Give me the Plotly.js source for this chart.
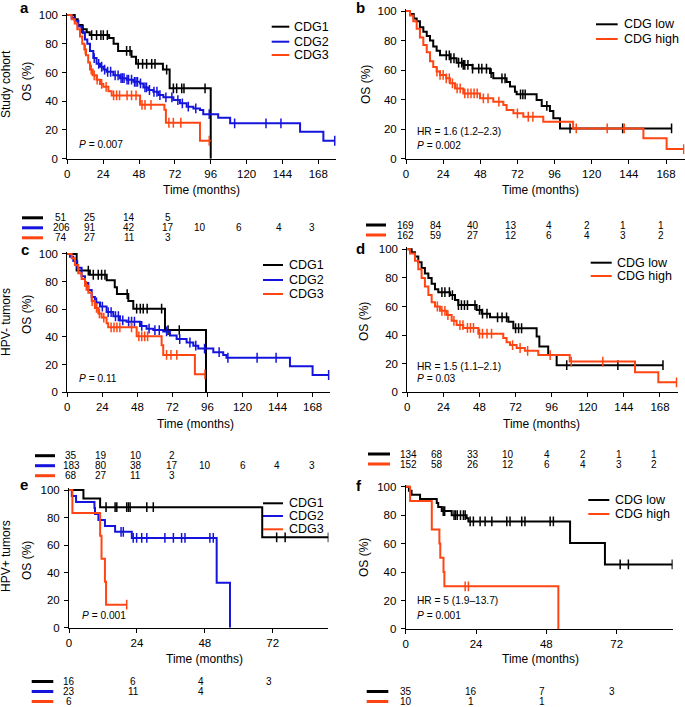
<!DOCTYPE html>
<html><head><meta charset="utf-8">
<script src="https://cdn.plot.ly/plotly-3.0.1.min.js"></script>
<style>html,body{margin:0;padding:0;background:#fff}#chart{width:685px;height:707px}</style>
</head><body><div id="chart"></div>
<script>
const W = 685, H = 707;
const FONT = 'Liberation Sans, Arial, Helvetica, sans-serif';
const BLACK = '#000000', BLUE = '#1414dc', RED = '#ff4512';

// ---------- Panel a: study cohort, CDG1/2/3 ----------
const aCDG1Time = [5, 7, 10, 13, 15, 28, 31, 34, 43, 46, 64, 68.5, 96];
const aCDG1Surv = [97, 93, 90, 88, 86, 84, 80, 75, 71, 66, 62, 49, 0];
const aCDG1End = 96;
const aCDG1Cens = [10.5, 16.3, 19.6, 22.5, 24.1, 26.8, 39.7, 42, 47.5, 50.4, 53.1, 56.5, 58.7, 66.5, 71, 73.2, 76.6, 78.1, 92.2];

const aCDG2Time = [2.9, 5, 7.4, 9.6, 11.8, 13.4, 15.2, 17.4, 19.6, 21.9, 24.1, 26.3, 30.8, 35.3, 39.7, 44.2, 48.7, 50.9, 54.2, 57.6, 61, 64.3, 71, 75.4, 79.9, 84.4, 88.8, 91, 101, 109, 155.8, 171.4];
const aCDG2Surv = [98, 96, 92, 88, 83, 80, 75, 70, 66, 64, 62, 60.5, 58, 56, 55, 53.5, 52.4, 49.6, 47.8, 46.6, 44.3, 42.7, 40.8, 38.5, 36.2, 35, 33.9, 31, 28.5, 24.6, 18.8, 12.5];
const aCDG2End = 179;
const aCDG2Cens = [18, 21, 23, 25, 27, 29, 32, 34, 36, 37, 38, 40, 41, 43, 45, 46, 47, 49, 52, 53, 55, 58, 60, 62, 66, 70, 74, 77, 81, 86, 95, 112, 133, 143, 179];

const aCDG3Time = [2.9, 5, 6.7, 8.5, 10, 11.4, 12.5, 14, 15.2, 17, 19.6, 21.9, 24.1, 27.5, 29.7, 48.7, 65, 66, 88.8];
const aCDG3Surv = [97, 94, 90, 85, 80, 76, 72, 67, 62, 58, 55, 52, 50, 47, 44, 37.5, 34, 25, 12.5];
const aCDG3End = 96;
const aCDG3Cens = [12, 16, 18, 20, 23, 26, 31, 33, 35, 40, 43, 46, 50, 52, 56, 68, 71, 76, 95];

// ---------- Panel b: study cohort, CDG low/high ----------
const bLowTime = [2.6, 5, 6.9, 9, 11.2, 13.4, 15.5, 17.6, 19.8, 22, 28.4, 32.7, 37, 43, 54.3, 56.4, 65, 67.2, 70.4, 71.5, 84.4, 87.7, 93, 95.2, 99.5];
const bLowSurv = [98, 95, 93, 89, 86, 83, 80, 76, 73, 70, 68, 65, 63.5, 61, 58, 54.4, 52, 48.8, 45.4, 43.6, 39.7, 35.7, 32.3, 27.3, 20.5];
const bLowEnd = 171.6;
const bLowCens = [26, 28, 29, 31, 34, 36, 37, 38, 40, 43, 47, 49, 52, 55, 62, 64, 74, 75.5, 77, 91, 106, 140, 171.6];

const bHighTime = [2.6, 4.7, 6.9, 9, 11.2, 13.4, 15.5, 17.6, 19.8, 22, 26, 28.4, 31.7, 37, 47.8, 56.4, 62.9, 65, 69.4, 75.8, 88.7, 108, 153.4, 168.4];
const bHighSurv = [97, 93, 88, 82, 77, 72, 66, 62, 59, 56.7, 54.4, 51, 47.6, 44.2, 40.9, 38.6, 36.3, 33, 30.7, 28.4, 25, 20.5, 13.8, 6.5];
const bHighEnd = 179.5;
const bHighCens = [20, 22, 24, 26, 28, 30, 33, 35, 38, 40, 42, 44, 46, 50, 53, 60, 72, 79, 82, 110, 130, 141, 179.5];

// ---------- Panel c: HPV- tumors, CDG1/2/3 ----------
const cCDG1Time = [6.4, 15.5, 27, 32.5, 34, 41.8, 45.2, 66.9, 95];
const cCDG1Surv = [88, 85, 81, 76, 71, 66, 60.5, 45, 0];
const cCDG1End = 95;
const cCDG1Cens = [14.4, 17.8, 21.2, 23.5, 25.8, 41, 47.5, 50, 52, 54.7, 64.6, 69, 76.7];

const cCDG2Time = [1.8, 4.1, 6.8, 9.8, 12.1, 14.4, 16.7, 18.9, 22.4, 26.9, 31.5, 36.1, 40.6, 49.8, 54.3, 58.9, 65.7, 70.3, 74.9, 81.7, 86.3, 89.7, 100, 106.8, 109, 152.5, 168];
const cCDG2Surv = [98, 95, 90, 84, 79, 74, 69, 65, 62, 58, 55, 52, 51, 48, 46, 45, 44, 41, 38.5, 36, 33.7, 31.6, 29, 27, 25, 18.8, 12.5];
const cCDG2End = 179;
const cCDG2Cens = [20, 24, 28, 30, 33, 35, 38, 42, 44, 46, 51, 56, 60, 63, 68, 77, 84, 88, 94, 104, 110, 130, 143, 179];

const cCDG3Time = [3, 5.2, 7.5, 9.8, 12.1, 14.4, 16.7, 18.9, 21.2, 23.5, 26.9, 28, 47.5, 64.6, 65.7, 87.4];
const cCDG3Surv = [97, 92, 86, 82, 77, 72, 66, 61, 57, 54, 50, 47, 40.5, 34, 27, 13];
const cCDG3End = 94.3;
const cCDG3Cens = [13, 17, 20, 22, 25, 30, 32, 34, 36, 44, 49, 51, 53, 55, 68, 71, 75, 94.3];

// ---------- Panel d: HPV- tumors, CDG low/high ----------
const dLowTime = [2.9, 5.1, 7.3, 9.5, 11.7, 14, 16.2, 18.4, 20.6, 28.4, 31.7, 33.9, 46.1, 49.4, 55, 67.2, 70.5, 86, 87.8, 93.7, 99.3];
const dLowSurv = [98, 95, 91, 87, 83, 80, 76, 72, 70, 68, 64.6, 61, 57.6, 55, 52.4, 49.4, 44.8, 39, 32, 26, 19];
const dLowEnd = 170;
const dLowCens = [23, 25, 28, 30, 34, 36, 38, 40, 45, 48, 50, 53, 60, 63, 66, 72, 74, 76, 106, 140, 170];

const dHighTime = [1.8, 5.1, 7.3, 9.5, 11.7, 14, 16.2, 18.4, 21.7, 26.2, 29.5, 32.8, 37.2, 47.2, 63.8, 66, 68.3, 72.7, 78.2, 87.1, 108, 151.4, 166.9];
const dHighSurv = [97, 92, 86, 80, 74, 68, 63, 60, 57, 54, 50, 47, 45, 41, 38, 35, 33, 31, 29, 26, 21.5, 14, 7];
const dHighEnd = 179;
const dHighCens = [20, 23, 25, 27, 31, 35, 37, 40, 42, 44, 48, 50, 53, 56, 70, 75, 80, 95, 109, 130, 179];

// ---------- Panel e: HPV+ tumors, CDG1/2/3 ----------
const eCDG1Time = [5.1, 11, 68.3];
const eCDG1Surv = [93.8, 87.5, 65.6];
const eCDG1End = 91.7;
const eCDG1Cens = [13.1, 16.3, 16.9, 20.4, 21, 21.6, 27.5, 29.8, 73.4, 76.4, 91.7];

const eCDG2Time = [1, 2.5, 9, 9.2, 10.4, 12.7, 16.3, 22.2, 52.2, 56.9];
const eCDG2Surv = [95.7, 91.3, 87, 82.6, 78.3, 73.9, 69.6, 65.2, 32.6, 0];
const eCDG2End = 56.9;
const eCDG2Cens = [18.4, 19.2, 22.7, 23.9, 25.7, 27.5, 33.9, 36.9, 39.8, 41, 49.8, 51];

const eCDG3Time = [1.2, 11, 11.5, 12.7, 13.1];
const eCDG3Surv = [83.3, 66.7, 50, 33.3, 16.7];
const eCDG3End = 20.4;
const eCDG3Cens = [20.4];

// ---------- Panel f: HPV+ tumors, CDG low/high ----------
const fLowTime = [1.1, 2, 4.9, 10.6, 11.1, 12.3, 15.7, 20.8, 21.4, 56.1, 68];
const fLowSurv = [97.1, 94.3, 91.4, 88.6, 85.7, 82.9, 80, 77.8, 75.6, 60.5, 45.4];
const fLowEnd = 91;
const fLowCens = [12.8, 13.3, 16.5, 17, 17.6, 18.7, 19.7, 20.3, 22, 23.1, 25.4, 27.1, 29.4, 34.5, 35.6, 39.6, 40.7, 49.3, 50.4, 73.2, 76, 91];

const fHighTime = [1.5, 8.9, 11.5, 11.8, 12.9, 13.2, 52.1];
const fHighSurv = [90, 70, 60, 50, 40, 30, 0];
const fHighEnd = 52.1;
const fHighCens = [20.3, 21.4];

// ---------- Risk tables (numbers at risk) ----------
const riskA = [[51, 25, 14, 5], [206, 91, 42, 17, 10, 6, 4, 3], [74, 27, 11, 3]];
const riskB = [[169, 84, 40, 13, 4, 2, 1, 1], [162, 59, 27, 12, 6, 4, 3, 2]];
const riskC = [[35, 19, 10, 2], [183, 80, 38, 17, 10, 6, 4, 3], [68, 27, 11, 3]];
const riskD = [[134, 68, 33, 10, 4, 2, 1, 1], [152, 58, 26, 12, 6, 4, 3, 2]];
const riskE = [[16, 6, 4, 3], [23, 11, 4], [6]];
const riskF = [[35, 16, 7, 3], [10, 1, 1]];

// ---------- Labels ----------
const groups3 = ['CDG1', 'CDG2', 'CDG3'];
const groups2 = ['CDG low', 'CDG high'];
const cohortTitles = ['Study cohort', 'HPV- tumors', 'HPV+ tumors'];
const panelLetters = ['a', 'b', 'c', 'd', 'e', 'f'];
const statTexts = [
  ['<i>P</i> = 0.007'],
  ['HR = 1.6 (1.2–2.3)', '<i>P</i> = 0.002'],
  ['<i>P</i> = 0.11'],
  ['HR = 1.5 (1.1–2.1)', '<i>P</i> = 0.03'],
  ['<i>P</i> = 0.001'],
  ['HR = 5 (1.9–13.7)', '<i>P</i> = 0.001']
];
const ticksLong = [0, 24, 48, 72, 96, 120, 144, 168];
const ticksShort = [0, 24, 48, 72];
const yTicks = [0, 20, 40, 60, 80, 100];

// ---------- Layout geometry (pixels) ----------
const geo = [
  {x0: 67.3, ppm: 1.494, xmax: 180, y100: 15, y0: 158.7, ticks: ticksLong,
   leg: {lx: [271.7, 289.3], tx: 293.3, ys: [26.7, 41.7, 55]},
   stat: {x: 78, ys: [145]},
   xt: [201, 190.5], yt: [[27, 82]], coh: [6, 84], letter: [24, 8],
   tab: {lx: [22, 43], cols: [61.2, 90.2, 129.4, 167.7, 200, 239.3, 279.3, 312.3], ys: [217.8, 227.8, 237.8]}},
  {x0: 406, ppm: 1.5476, xmax: 180, y100: 11, y0: 158.7, ticks: ticksLong,
   leg: {lx: [596, 617.7], tx: 622.7, ys: [24.3, 39]},
   stat: {x: 416, ys: [131.7, 145.7]},
   xt: [540, 190.5], yt: [[366, 84]], coh: null, letter: [361, 8],
   tab: {lx: [366, 386], cols: [405.7, 436, 473.3, 510.7, 549.3, 587.3, 623.3, 661], ys: [225, 235]}},
  {x0: 67.3, ppm: 1.460, xmax: 180, y100: 254, y0: 392.3, ticks: ticksLong,
   leg: {lx: [263, 283], tx: 288.3, ys: [265, 280, 294]},
   stat: {x: 78, ys: [378]},
   xt: [196, 423.7], yt: [[27, 315]], coh: [6, 322], letter: [25, 249],
   tab: {lx: [35, 55], cols: [71, 101.2, 135.8, 172, 204.7, 243, 277.3, 311.5], ys: [455.7, 465.7, 475.7]}},
  {x0: 407.3, ppm: 1.504, xmax: 180, y100: 249.3, y0: 392.3, ticks: ticksLong,
   leg: {lx: [590.7, 611.7], tx: 616, ys: [262.7, 276]},
   stat: {x: 416, ys: [366, 378]},
   xt: [541, 423.7], yt: [[364, 322]], coh: null, letter: [360, 248],
   tab: {lx: [368, 390], cols: [408.3, 436.7, 473.3, 508.3, 547.3, 582.7, 619.3, 654], ys: [454, 464]}},
  {x0: 69, ppm: 2.829, xmax: 91.7, y100: 490, y0: 627.7, ticks: ticksShort,
   leg: {lx: [263, 283], tx: 288.3, ys: [503.3, 516, 529.3]},
   stat: {x: 81, ys: [615]},
   xt: [204, 658.7], yt: [[27, 561]], coh: [6, 556], letter: [24, 484],
   tab: {lx: [31.7, 53.3], cols: [69, 133, 201, 269.3], ys: [681.5, 691.5, 701.5]}},
  {x0: 405.7, ppm: 2.93, xmax: 91.1, y100: 486.7, y0: 629, ticks: ticksShort,
   leg: {lx: [588.3, 609.3], tx: 614, ys: [500, 514]},
   stat: {x: 416, ys: [600.7, 615]},
   xt: [540, 659], yt: [[364, 558]], coh: null, letter: [359, 485],
   tab: {lx: [366.7, 388.3], cols: [405.7, 470.5, 542.3, 611.7], ys: [691.5, 701.5]}}
];

const colors3 = [BLACK, BLUE, RED];
const colors2 = [BLACK, RED];
const curves = [
  [[aCDG1Time, aCDG1Surv, aCDG1End, aCDG1Cens], [aCDG2Time, aCDG2Surv, aCDG2End, aCDG2Cens], [aCDG3Time, aCDG3Surv, aCDG3End, aCDG3Cens]],
  [[bLowTime, bLowSurv, bLowEnd, bLowCens], [bHighTime, bHighSurv, bHighEnd, bHighCens]],
  [[cCDG1Time, cCDG1Surv, cCDG1End, cCDG1Cens], [cCDG2Time, cCDG2Surv, cCDG2End, cCDG2Cens], [cCDG3Time, cCDG3Surv, cCDG3End, cCDG3Cens]],
  [[dLowTime, dLowSurv, dLowEnd, dLowCens], [dHighTime, dHighSurv, dHighEnd, dHighCens]],
  [[eCDG1Time, eCDG1Surv, eCDG1End, eCDG1Cens], [eCDG2Time, eCDG2Surv, eCDG2End, eCDG2Cens], [eCDG3Time, eCDG3Surv, eCDG3End, eCDG3Cens]],
  [[fLowTime, fLowSurv, fLowEnd, fLowCens], [fHighTime, fHighSurv, fHighEnd, fHighCens]]
];
const risks = [riskA, riskB, riskC, riskD, riskE, riskF];

const px = v => v / W;
const py = v => 1 - v / H;

function stepY(times, survs, c) {
  let y = 100;
  for (let i = 0; i < times.length; i++) { if (times[i] <= c) y = survs[i]; else break; }
  return y;
}

const traces = [];
const layout = {
  width: W, height: H, margin: {l: 0, r: 0, t: 0, b: 0},
  paper_bgcolor: '#fff', plot_bgcolor: 'rgba(0,0,0,0)',
  showlegend: false, font: {family: FONT, size: 11, color: '#000'},
  annotations: [], shapes: []
};

function ann(text, x, y, opts) {
  layout.annotations.push(Object.assign({
    text: text, x: px(x), y: py(y), xref: 'paper', yref: 'paper',
    showarrow: false, xanchor: 'center', yanchor: 'middle',
    font: {family: FONT, size: 11, color: '#000'}, borderpad: 0
  }, opts || {}));
}
function hline(x1, x2, y, color, width) {
  layout.shapes.push({type: 'line', xref: 'paper', yref: 'paper', x0: px(x1), x1: px(x2), y0: py(y), y1: py(y), line: {color: color, width: width}});
}

geo.forEach((g, i) => {
  const n = i + 1;
  const xa = n === 1 ? 'x' : 'x' + n, ya = n === 1 ? 'y' : 'y' + n;
  const xk = n === 1 ? 'xaxis' : 'xaxis' + n, yk = n === 1 ? 'yaxis' : 'yaxis' + n;
  const ppu = (g.y0 - g.y100) / 100;
  const ytop = g.y100 - 1.5 * ppu;
  const axisCommon = {showline: true, linecolor: '#000', linewidth: 1, ticks: 'outside', ticklen: 4, tickwidth: 1,
    tickcolor: '#000', showgrid: false, zeroline: false, fixedrange: true, tickfont: {family: FONT, size: 11.5, color: '#000'}};
  layout[xk] = Object.assign({}, axisCommon, {domain: [px(g.x0), px(g.x0 + g.ppm * g.xmax)], range: [0, g.xmax],
    tickmode: 'array', tickvals: g.ticks, ticktext: g.ticks.map(String), anchor: ya});
  layout[yk] = Object.assign({}, axisCommon, {domain: [py(g.y0), py(ytop)], range: [0, 101.5],
    tickmode: 'array', tickvals: yTicks, ticktext: yTicks.map(String), anchor: xa, ticklabelstandoff: 2});

  const isThree = (i % 2 === 0);
  const cols = isThree ? colors3 : colors2;
  const names = isThree ? groups3 : groups2;

  curves[i].forEach((cv, k) => {
    const [t, s, end, cens] = cv;
    const x = [0].concat(t), y = [100].concat(s);
    if (end > x[x.length - 1]) { x.push(end); y.push(y[y.length - 1]); }
    traces.push({type: 'scatter', mode: 'lines', x: x, y: y, xaxis: xa, yaxis: ya, name: names[k],
      line: {shape: 'hv', color: cols[k], width: 2}, hoverinfo: 'skip'});
    traces.push({type: 'scatter', mode: 'markers', x: cens, y: cens.map(c => stepY(t, s, c)), xaxis: xa, yaxis: ya,
      marker: {symbol: 'line-ns-open', size: 7, color: cols[k], line: {color: cols[k], width: 1.5}}, hoverinfo: 'skip', name: names[k] + ' censored'});
  });

  // legend
  names.forEach((nm, k) => {
    hline(g.leg.lx[0], g.leg.lx[1], g.leg.ys[k], cols[k], 2);
    ann(nm, g.leg.tx, g.leg.ys[k], {xanchor: 'left', font: {family: FONT, size: 12.5, color: '#000'}});
  });
  // stats
  statTexts[i].forEach((st, k) => ann(st, g.stat.x, g.stat.ys[k], {xanchor: 'left', font: {family: FONT, size: 10.2, color: '#000'}}));
  // axis titles
  ann('Time (months)', g.xt[0], g.xt[1], {font: {family: FONT, size: 12, color: '#000'}});
  ann('OS (%)', g.yt[0][0], g.yt[0][1], {textangle: -90, font: {family: FONT, size: 12, color: '#000'}});
  if (g.coh) ann(cohortTitles[i / 2], g.coh[0], g.coh[1], {textangle: -90, font: {family: FONT, size: 12, color: '#000'}});
  // letter
  ann('<b>' + panelLetters[i] + '</b>', g.letter[0], g.letter[1], {font: {family: FONT, size: 15, color: '#000'}});
  // risk table
  risks[i].forEach((row, r) => {
    hline(g.tab.lx[0], g.tab.lx[1], g.tab.ys[r], cols[r], 3);
    row.forEach((v, c) => ann(String(v), g.tab.cols[c], g.tab.ys[r], {font: {family: FONT, size: 10, color: '#000'}}));
  });
});

Plotly.newPlot('chart', traces, layout, {displayModeBar: false, staticPlot: true});
</script>
</body></html>
